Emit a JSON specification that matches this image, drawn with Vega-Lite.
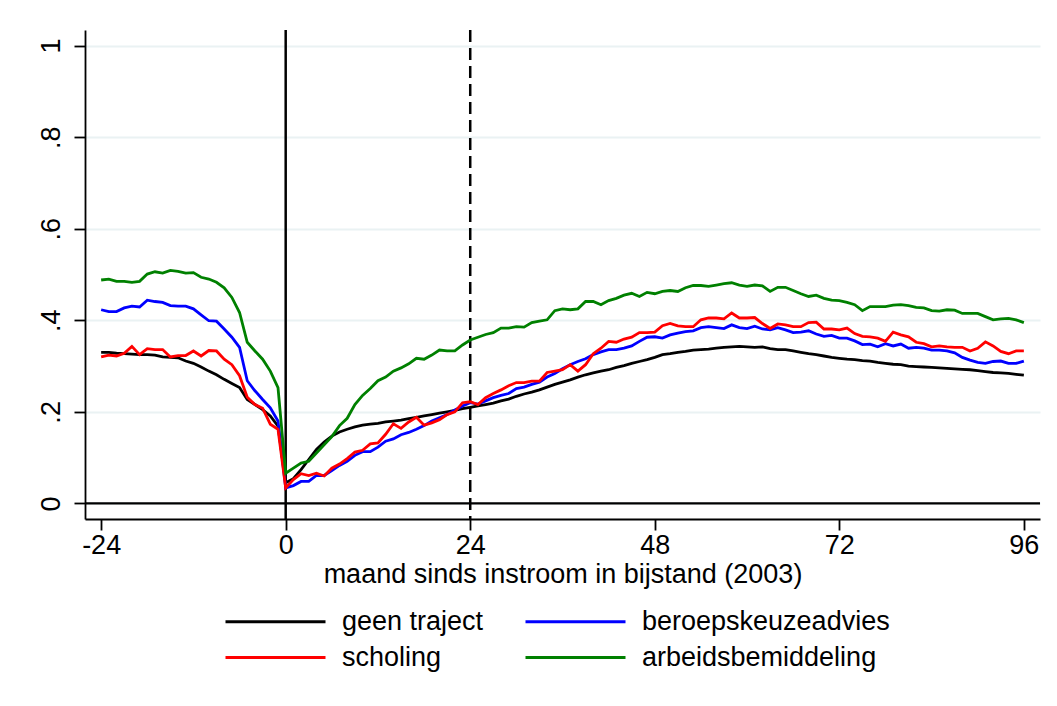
{
"$schema": "https://vega.github.io/schema/vega-lite/v6.json",
"width": 955, "height": 489,
"autosize": {"type": "none"},
"padding": {"left": 85, "top": 30, "right": 17, "bottom": 187},
"background": "white",
"config": {"view": {"stroke": null}, "font": "Liberation Sans",
  "axis": {"domainColor": "black", "domainWidth": 1.8, "tickColor": "black", "tickWidth": 1.8, "tickSize": 11, "labelFontSize": 27, "labelColor": "black", "titleFontSize": 27, "titleFontWeight": "normal", "titleColor": "black", "labelFont": "Liberation Sans", "titleFont": "Liberation Sans"},
  "axisX": {"grid": false, "labelPadding": 2, "titlePadding": 3},
  "axisY": {"grid": true, "gridColor": "#EAF2F3", "gridWidth": 2, "labelAngle": -90, "labelAlign": "center", "labelBaseline": "bottom", "labelPadding": 9}
},
"datasets": {
"series": [
{"m":-24,"s":"geen traject","v":0.330},{"m":-23,"s":"geen traject","v":0.330},{"m":-22,"s":"geen traject","v":0.328},{"m":-21,"s":"geen traject","v":0.327},{"m":-20,"s":"geen traject","v":0.326},{"m":-19,"s":"geen traject","v":0.325},{"m":-18,"s":"geen traject","v":0.325},{"m":-17,"s":"geen traject","v":0.324},{"m":-16,"s":"geen traject","v":0.320},{"m":-15,"s":"geen traject","v":0.319},{"m":-14,"s":"geen traject","v":0.318},{"m":-13,"s":"geen traject","v":0.311},{"m":-12,"s":"geen traject","v":0.306},{"m":-11,"s":"geen traject","v":0.298},{"m":-10,"s":"geen traject","v":0.289},{"m":-9,"s":"geen traject","v":0.281},{"m":-8,"s":"geen traject","v":0.271},{"m":-7,"s":"geen traject","v":0.262},{"m":-6,"s":"geen traject","v":0.253},{"m":-5,"s":"geen traject","v":0.227},{"m":-4,"s":"geen traject","v":0.216},{"m":-3,"s":"geen traject","v":0.205},{"m":-2,"s":"geen traject","v":0.191},{"m":-1,"s":"geen traject","v":0.169},
{"m":0,"s":"geen traject","v":0.045},{"m":1,"s":"geen traject","v":0.054},{"m":2,"s":"geen traject","v":0.074},{"m":3,"s":"geen traject","v":0.096},{"m":4,"s":"geen traject","v":0.118},{"m":5,"s":"geen traject","v":0.134},{"m":6,"s":"geen traject","v":0.147},{"m":7,"s":"geen traject","v":0.156},{"m":8,"s":"geen traject","v":0.162},{"m":9,"s":"geen traject","v":0.167},{"m":10,"s":"geen traject","v":0.171},{"m":11,"s":"geen traject","v":0.173},{"m":12,"s":"geen traject","v":0.175},{"m":13,"s":"geen traject","v":0.178},{"m":14,"s":"geen traject","v":0.180},{"m":15,"s":"geen traject","v":0.182},{"m":16,"s":"geen traject","v":0.185},{"m":17,"s":"geen traject","v":0.188},{"m":18,"s":"geen traject","v":0.191},{"m":19,"s":"geen traject","v":0.194},{"m":20,"s":"geen traject","v":0.197},{"m":21,"s":"geen traject","v":0.200},{"m":22,"s":"geen traject","v":0.203},{"m":23,"s":"geen traject","v":0.207},{"m":24,"s":"geen traject","v":0.210},
{"m":25,"s":"geen traject","v":0.213},{"m":26,"s":"geen traject","v":0.216},{"m":27,"s":"geen traject","v":0.219},{"m":28,"s":"geen traject","v":0.224},{"m":29,"s":"geen traject","v":0.228},{"m":30,"s":"geen traject","v":0.234},{"m":31,"s":"geen traject","v":0.239},{"m":32,"s":"geen traject","v":0.243},{"m":33,"s":"geen traject","v":0.248},{"m":34,"s":"geen traject","v":0.254},{"m":35,"s":"geen traject","v":0.260},{"m":36,"s":"geen traject","v":0.265},{"m":37,"s":"geen traject","v":0.270},{"m":38,"s":"geen traject","v":0.276},{"m":39,"s":"geen traject","v":0.281},{"m":40,"s":"geen traject","v":0.285},{"m":41,"s":"geen traject","v":0.289},{"m":42,"s":"geen traject","v":0.292},{"m":43,"s":"geen traject","v":0.297},{"m":44,"s":"geen traject","v":0.301},{"m":45,"s":"geen traject","v":0.306},{"m":46,"s":"geen traject","v":0.310},{"m":47,"s":"geen traject","v":0.314},{"m":48,"s":"geen traject","v":0.319},
{"m":49,"s":"geen traject","v":0.325},{"m":50,"s":"geen traject","v":0.327},{"m":51,"s":"geen traject","v":0.330},{"m":52,"s":"geen traject","v":0.332},{"m":53,"s":"geen traject","v":0.335},{"m":54,"s":"geen traject","v":0.336},{"m":55,"s":"geen traject","v":0.337},{"m":56,"s":"geen traject","v":0.339},{"m":57,"s":"geen traject","v":0.341},{"m":58,"s":"geen traject","v":0.342},{"m":59,"s":"geen traject","v":0.343},{"m":60,"s":"geen traject","v":0.342},{"m":61,"s":"geen traject","v":0.341},{"m":62,"s":"geen traject","v":0.342},{"m":63,"s":"geen traject","v":0.338},{"m":64,"s":"geen traject","v":0.336},{"m":65,"s":"geen traject","v":0.336},{"m":66,"s":"geen traject","v":0.333},{"m":67,"s":"geen traject","v":0.330},{"m":68,"s":"geen traject","v":0.327},{"m":69,"s":"geen traject","v":0.325},{"m":70,"s":"geen traject","v":0.322},{"m":71,"s":"geen traject","v":0.319},{"m":72,"s":"geen traject","v":0.317},
{"m":73,"s":"geen traject","v":0.315},{"m":74,"s":"geen traject","v":0.314},{"m":75,"s":"geen traject","v":0.312},{"m":76,"s":"geen traject","v":0.311},{"m":77,"s":"geen traject","v":0.308},{"m":78,"s":"geen traject","v":0.306},{"m":79,"s":"geen traject","v":0.304},{"m":80,"s":"geen traject","v":0.303},{"m":81,"s":"geen traject","v":0.300},{"m":82,"s":"geen traject","v":0.299},{"m":83,"s":"geen traject","v":0.298},{"m":84,"s":"geen traject","v":0.297},{"m":85,"s":"geen traject","v":0.296},{"m":86,"s":"geen traject","v":0.295},{"m":87,"s":"geen traject","v":0.294},{"m":88,"s":"geen traject","v":0.293},{"m":89,"s":"geen traject","v":0.292},{"m":90,"s":"geen traject","v":0.290},{"m":91,"s":"geen traject","v":0.288},{"m":92,"s":"geen traject","v":0.286},{"m":93,"s":"geen traject","v":0.285},{"m":94,"s":"geen traject","v":0.284},{"m":95,"s":"geen traject","v":0.282},{"m":96,"s":"geen traject","v":0.280},

{"m":-24,"s":"beroepskeuzeadvies","v":0.423},{"m":-23,"s":"beroepskeuzeadvies","v":0.419},{"m":-22,"s":"beroepskeuzeadvies","v":0.419},{"m":-21,"s":"beroepskeuzeadvies","v":0.427},{"m":-20,"s":"beroepskeuzeadvies","v":0.431},{"m":-19,"s":"beroepskeuzeadvies","v":0.429},{"m":-18,"s":"beroepskeuzeadvies","v":0.444},{"m":-17,"s":"beroepskeuzeadvies","v":0.441},{"m":-16,"s":"beroepskeuzeadvies","v":0.439},{"m":-15,"s":"beroepskeuzeadvies","v":0.432},{"m":-14,"s":"beroepskeuzeadvies","v":0.431},{"m":-13,"s":"beroepskeuzeadvies","v":0.431},{"m":-12,"s":"beroepskeuzeadvies","v":0.425},{"m":-11,"s":"beroepskeuzeadvies","v":0.412},{"m":-10,"s":"beroepskeuzeadvies","v":0.399},{"m":-9,"s":"beroepskeuzeadvies","v":0.398},{"m":-8,"s":"beroepskeuzeadvies","v":0.381},{"m":-7,"s":"beroepskeuzeadvies","v":0.363},{"m":-6,"s":"beroepskeuzeadvies","v":0.341},{"m":-5,"s":"beroepskeuzeadvies","v":0.268},{"m":-4,"s":"beroepskeuzeadvies","v":0.246},{"m":-3,"s":"beroepskeuzeadvies","v":0.227},{"m":-2,"s":"beroepskeuzeadvies","v":0.209},{"m":-1,"s":"beroepskeuzeadvies","v":0.180},
{"m":0,"s":"beroepskeuzeadvies","v":0.034},{"m":1,"s":"beroepskeuzeadvies","v":0.039},{"m":2,"s":"beroepskeuzeadvies","v":0.048},{"m":3,"s":"beroepskeuzeadvies","v":0.048},{"m":4,"s":"beroepskeuzeadvies","v":0.061},{"m":5,"s":"beroepskeuzeadvies","v":0.061},{"m":6,"s":"beroepskeuzeadvies","v":0.072},{"m":7,"s":"beroepskeuzeadvies","v":0.083},{"m":8,"s":"beroepskeuzeadvies","v":0.092},{"m":9,"s":"beroepskeuzeadvies","v":0.105},{"m":10,"s":"beroepskeuzeadvies","v":0.113},{"m":11,"s":"beroepskeuzeadvies","v":0.113},{"m":12,"s":"beroepskeuzeadvies","v":0.123},{"m":13,"s":"beroepskeuzeadvies","v":0.136},{"m":14,"s":"beroepskeuzeadvies","v":0.141},{"m":15,"s":"beroepskeuzeadvies","v":0.150},{"m":16,"s":"beroepskeuzeadvies","v":0.155},{"m":17,"s":"beroepskeuzeadvies","v":0.162},{"m":18,"s":"beroepskeuzeadvies","v":0.170},{"m":19,"s":"beroepskeuzeadvies","v":0.180},{"m":20,"s":"beroepskeuzeadvies","v":0.187},{"m":21,"s":"beroepskeuzeadvies","v":0.194},{"m":22,"s":"beroepskeuzeadvies","v":0.204},{"m":23,"s":"beroepskeuzeadvies","v":0.213},{"m":24,"s":"beroepskeuzeadvies","v":0.220},
{"m":25,"s":"beroepskeuzeadvies","v":0.217},{"m":26,"s":"beroepskeuzeadvies","v":0.224},{"m":27,"s":"beroepskeuzeadvies","v":0.231},{"m":28,"s":"beroepskeuzeadvies","v":0.236},{"m":29,"s":"beroepskeuzeadvies","v":0.240},{"m":30,"s":"beroepskeuzeadvies","v":0.251},{"m":31,"s":"beroepskeuzeadvies","v":0.254},{"m":32,"s":"beroepskeuzeadvies","v":0.260},{"m":33,"s":"beroepskeuzeadvies","v":0.265},{"m":34,"s":"beroepskeuzeadvies","v":0.276},{"m":35,"s":"beroepskeuzeadvies","v":0.284},{"m":36,"s":"beroepskeuzeadvies","v":0.294},{"m":37,"s":"beroepskeuzeadvies","v":0.303},{"m":38,"s":"beroepskeuzeadvies","v":0.310},{"m":39,"s":"beroepskeuzeadvies","v":0.316},{"m":40,"s":"beroepskeuzeadvies","v":0.325},{"m":41,"s":"beroepskeuzeadvies","v":0.331},{"m":42,"s":"beroepskeuzeadvies","v":0.336},{"m":43,"s":"beroepskeuzeadvies","v":0.336},{"m":44,"s":"beroepskeuzeadvies","v":0.339},{"m":45,"s":"beroepskeuzeadvies","v":0.344},{"m":46,"s":"beroepskeuzeadvies","v":0.354},{"m":47,"s":"beroepskeuzeadvies","v":0.363},{"m":48,"s":"beroepskeuzeadvies","v":0.364},
{"m":49,"s":"beroepskeuzeadvies","v":0.361},{"m":50,"s":"beroepskeuzeadvies","v":0.368},{"m":51,"s":"beroepskeuzeadvies","v":0.372},{"m":52,"s":"beroepskeuzeadvies","v":0.375},{"m":53,"s":"beroepskeuzeadvies","v":0.377},{"m":54,"s":"beroepskeuzeadvies","v":0.384},{"m":55,"s":"beroepskeuzeadvies","v":0.386},{"m":56,"s":"beroepskeuzeadvies","v":0.384},{"m":57,"s":"beroepskeuzeadvies","v":0.382},{"m":58,"s":"beroepskeuzeadvies","v":0.390},{"m":59,"s":"beroepskeuzeadvies","v":0.384},{"m":60,"s":"beroepskeuzeadvies","v":0.382},{"m":61,"s":"beroepskeuzeadvies","v":0.387},{"m":62,"s":"beroepskeuzeadvies","v":0.381},{"m":63,"s":"beroepskeuzeadvies","v":0.379},{"m":64,"s":"beroepskeuzeadvies","v":0.384},{"m":65,"s":"beroepskeuzeadvies","v":0.379},{"m":66,"s":"beroepskeuzeadvies","v":0.373},{"m":67,"s":"beroepskeuzeadvies","v":0.374},{"m":68,"s":"beroepskeuzeadvies","v":0.377},{"m":69,"s":"beroepskeuzeadvies","v":0.370},{"m":70,"s":"beroepskeuzeadvies","v":0.365},{"m":71,"s":"beroepskeuzeadvies","v":0.367},{"m":72,"s":"beroepskeuzeadvies","v":0.361},
{"m":73,"s":"beroepskeuzeadvies","v":0.361},{"m":74,"s":"beroepskeuzeadvies","v":0.355},{"m":75,"s":"beroepskeuzeadvies","v":0.347},{"m":76,"s":"beroepskeuzeadvies","v":0.348},{"m":77,"s":"beroepskeuzeadvies","v":0.342},{"m":78,"s":"beroepskeuzeadvies","v":0.349},{"m":79,"s":"beroepskeuzeadvies","v":0.344},{"m":80,"s":"beroepskeuzeadvies","v":0.348},{"m":81,"s":"beroepskeuzeadvies","v":0.339},{"m":82,"s":"beroepskeuzeadvies","v":0.341},{"m":83,"s":"beroepskeuzeadvies","v":0.339},{"m":84,"s":"beroepskeuzeadvies","v":0.335},{"m":85,"s":"beroepskeuzeadvies","v":0.335},{"m":86,"s":"beroepskeuzeadvies","v":0.333},{"m":87,"s":"beroepskeuzeadvies","v":0.329},{"m":88,"s":"beroepskeuzeadvies","v":0.319},{"m":89,"s":"beroepskeuzeadvies","v":0.313},{"m":90,"s":"beroepskeuzeadvies","v":0.308},{"m":91,"s":"beroepskeuzeadvies","v":0.306},{"m":92,"s":"beroepskeuzeadvies","v":0.310},{"m":93,"s":"beroepskeuzeadvies","v":0.311},{"m":94,"s":"beroepskeuzeadvies","v":0.306},{"m":95,"s":"beroepskeuzeadvies","v":0.306},{"m":96,"s":"beroepskeuzeadvies","v":0.311},

{"m":-24,"s":"scholing","v":0.320},{"m":-23,"s":"scholing","v":0.324},{"m":-22,"s":"scholing","v":0.322},{"m":-21,"s":"scholing","v":0.328},{"m":-20,"s":"scholing","v":0.343},{"m":-19,"s":"scholing","v":0.325},{"m":-18,"s":"scholing","v":0.338},{"m":-17,"s":"scholing","v":0.336},{"m":-16,"s":"scholing","v":0.336},{"m":-15,"s":"scholing","v":0.320},{"m":-14,"s":"scholing","v":0.323},{"m":-13,"s":"scholing","v":0.323},{"m":-12,"s":"scholing","v":0.333},{"m":-11,"s":"scholing","v":0.322},{"m":-10,"s":"scholing","v":0.334},{"m":-9,"s":"scholing","v":0.333},{"m":-8,"s":"scholing","v":0.315},{"m":-7,"s":"scholing","v":0.303},{"m":-6,"s":"scholing","v":0.279},{"m":-5,"s":"scholing","v":0.232},{"m":-4,"s":"scholing","v":0.216},{"m":-3,"s":"scholing","v":0.208},{"m":-2,"s":"scholing","v":0.173},{"m":-1,"s":"scholing","v":0.162},
{"m":0,"s":"scholing","v":0.034},{"m":1,"s":"scholing","v":0.052},{"m":2,"s":"scholing","v":0.065},{"m":3,"s":"scholing","v":0.061},{"m":4,"s":"scholing","v":0.066},{"m":5,"s":"scholing","v":0.060},{"m":6,"s":"scholing","v":0.077},{"m":7,"s":"scholing","v":0.086},{"m":8,"s":"scholing","v":0.098},{"m":9,"s":"scholing","v":0.112},{"m":10,"s":"scholing","v":0.116},{"m":11,"s":"scholing","v":0.130},{"m":12,"s":"scholing","v":0.132},{"m":13,"s":"scholing","v":0.151},{"m":14,"s":"scholing","v":0.174},{"m":15,"s":"scholing","v":0.164},{"m":16,"s":"scholing","v":0.178},{"m":17,"s":"scholing","v":0.188},{"m":18,"s":"scholing","v":0.171},{"m":19,"s":"scholing","v":0.176},{"m":20,"s":"scholing","v":0.183},{"m":21,"s":"scholing","v":0.194},{"m":22,"s":"scholing","v":0.200},{"m":23,"s":"scholing","v":0.220},{"m":24,"s":"scholing","v":0.222},
{"m":25,"s":"scholing","v":0.216},{"m":26,"s":"scholing","v":0.231},{"m":27,"s":"scholing","v":0.240},{"m":28,"s":"scholing","v":0.248},{"m":29,"s":"scholing","v":0.257},{"m":30,"s":"scholing","v":0.264},{"m":31,"s":"scholing","v":0.264},{"m":32,"s":"scholing","v":0.267},{"m":33,"s":"scholing","v":0.267},{"m":34,"s":"scholing","v":0.286},{"m":35,"s":"scholing","v":0.289},{"m":36,"s":"scholing","v":0.292},{"m":37,"s":"scholing","v":0.303},{"m":38,"s":"scholing","v":0.289},{"m":39,"s":"scholing","v":0.303},{"m":40,"s":"scholing","v":0.327},{"m":41,"s":"scholing","v":0.339},{"m":42,"s":"scholing","v":0.354},{"m":43,"s":"scholing","v":0.352},{"m":44,"s":"scholing","v":0.359},{"m":45,"s":"scholing","v":0.363},{"m":46,"s":"scholing","v":0.373},{"m":47,"s":"scholing","v":0.373},{"m":48,"s":"scholing","v":0.374},
{"m":49,"s":"scholing","v":0.388},{"m":50,"s":"scholing","v":0.393},{"m":51,"s":"scholing","v":0.388},{"m":52,"s":"scholing","v":0.386},{"m":53,"s":"scholing","v":0.386},{"m":54,"s":"scholing","v":0.401},{"m":55,"s":"scholing","v":0.405},{"m":56,"s":"scholing","v":0.405},{"m":57,"s":"scholing","v":0.403},{"m":58,"s":"scholing","v":0.416},{"m":59,"s":"scholing","v":0.405},{"m":60,"s":"scholing","v":0.405},{"m":61,"s":"scholing","v":0.406},{"m":62,"s":"scholing","v":0.393},{"m":63,"s":"scholing","v":0.382},{"m":64,"s":"scholing","v":0.392},{"m":65,"s":"scholing","v":0.390},{"m":66,"s":"scholing","v":0.386},{"m":67,"s":"scholing","v":0.386},{"m":68,"s":"scholing","v":0.395},{"m":69,"s":"scholing","v":0.396},{"m":70,"s":"scholing","v":0.381},{"m":71,"s":"scholing","v":0.381},{"m":72,"s":"scholing","v":0.379},
{"m":73,"s":"scholing","v":0.383},{"m":74,"s":"scholing","v":0.371},{"m":75,"s":"scholing","v":0.365},{"m":76,"s":"scholing","v":0.364},{"m":77,"s":"scholing","v":0.361},{"m":78,"s":"scholing","v":0.354},{"m":79,"s":"scholing","v":0.374},{"m":80,"s":"scholing","v":0.368},{"m":81,"s":"scholing","v":0.364},{"m":82,"s":"scholing","v":0.352},{"m":83,"s":"scholing","v":0.349},{"m":84,"s":"scholing","v":0.342},{"m":85,"s":"scholing","v":0.344},{"m":86,"s":"scholing","v":0.342},{"m":87,"s":"scholing","v":0.341},{"m":88,"s":"scholing","v":0.341},{"m":89,"s":"scholing","v":0.333},{"m":90,"s":"scholing","v":0.339},{"m":91,"s":"scholing","v":0.353},{"m":92,"s":"scholing","v":0.344},{"m":93,"s":"scholing","v":0.332},{"m":94,"s":"scholing","v":0.327},{"m":95,"s":"scholing","v":0.333},{"m":96,"s":"scholing","v":0.333},

{"m":-24,"s":"arbeidsbemiddeling","v":0.488},{"m":-23,"s":"arbeidsbemiddeling","v":0.490},{"m":-22,"s":"arbeidsbemiddeling","v":0.485},{"m":-21,"s":"arbeidsbemiddeling","v":0.485},{"m":-20,"s":"arbeidsbemiddeling","v":0.483},{"m":-19,"s":"arbeidsbemiddeling","v":0.485},{"m":-18,"s":"arbeidsbemiddeling","v":0.501},{"m":-17,"s":"arbeidsbemiddeling","v":0.506},{"m":-16,"s":"arbeidsbemiddeling","v":0.503},{"m":-15,"s":"arbeidsbemiddeling","v":0.509},{"m":-14,"s":"arbeidsbemiddeling","v":0.507},{"m":-13,"s":"arbeidsbemiddeling","v":0.503},{"m":-12,"s":"arbeidsbemiddeling","v":0.504},{"m":-11,"s":"arbeidsbemiddeling","v":0.494},{"m":-10,"s":"arbeidsbemiddeling","v":0.490},{"m":-9,"s":"arbeidsbemiddeling","v":0.483},{"m":-8,"s":"arbeidsbemiddeling","v":0.471},{"m":-7,"s":"arbeidsbemiddeling","v":0.450},{"m":-6,"s":"arbeidsbemiddeling","v":0.417},{"m":-5,"s":"arbeidsbemiddeling","v":0.352},{"m":-4,"s":"arbeidsbemiddeling","v":0.333},{"m":-3,"s":"arbeidsbemiddeling","v":0.315},{"m":-2,"s":"arbeidsbemiddeling","v":0.289},{"m":-1,"s":"arbeidsbemiddeling","v":0.253},
{"m":0,"s":"arbeidsbemiddeling","v":0.066},{"m":1,"s":"arbeidsbemiddeling","v":0.077},{"m":2,"s":"arbeidsbemiddeling","v":0.088},{"m":3,"s":"arbeidsbemiddeling","v":0.092},{"m":4,"s":"arbeidsbemiddeling","v":0.110},{"m":5,"s":"arbeidsbemiddeling","v":0.128},{"m":6,"s":"arbeidsbemiddeling","v":0.146},{"m":7,"s":"arbeidsbemiddeling","v":0.170},{"m":8,"s":"arbeidsbemiddeling","v":0.186},{"m":9,"s":"arbeidsbemiddeling","v":0.216},{"m":10,"s":"arbeidsbemiddeling","v":0.236},{"m":11,"s":"arbeidsbemiddeling","v":0.251},{"m":12,"s":"arbeidsbemiddeling","v":0.268},{"m":13,"s":"arbeidsbemiddeling","v":0.276},{"m":14,"s":"arbeidsbemiddeling","v":0.289},{"m":15,"s":"arbeidsbemiddeling","v":0.296},{"m":16,"s":"arbeidsbemiddeling","v":0.305},{"m":17,"s":"arbeidsbemiddeling","v":0.317},{"m":18,"s":"arbeidsbemiddeling","v":0.315},{"m":19,"s":"arbeidsbemiddeling","v":0.324},{"m":20,"s":"arbeidsbemiddeling","v":0.335},{"m":21,"s":"arbeidsbemiddeling","v":0.333},{"m":22,"s":"arbeidsbemiddeling","v":0.333},{"m":23,"s":"arbeidsbemiddeling","v":0.346},{"m":24,"s":"arbeidsbemiddeling","v":0.357},
{"m":25,"s":"arbeidsbemiddeling","v":0.363},{"m":26,"s":"arbeidsbemiddeling","v":0.369},{"m":27,"s":"arbeidsbemiddeling","v":0.373},{"m":28,"s":"arbeidsbemiddeling","v":0.383},{"m":29,"s":"arbeidsbemiddeling","v":0.383},{"m":30,"s":"arbeidsbemiddeling","v":0.386},{"m":31,"s":"arbeidsbemiddeling","v":0.385},{"m":32,"s":"arbeidsbemiddeling","v":0.395},{"m":33,"s":"arbeidsbemiddeling","v":0.398},{"m":34,"s":"arbeidsbemiddeling","v":0.401},{"m":35,"s":"arbeidsbemiddeling","v":0.421},{"m":36,"s":"arbeidsbemiddeling","v":0.425},{"m":37,"s":"arbeidsbemiddeling","v":0.423},{"m":38,"s":"arbeidsbemiddeling","v":0.425},{"m":39,"s":"arbeidsbemiddeling","v":0.441},{"m":40,"s":"arbeidsbemiddeling","v":0.441},{"m":41,"s":"arbeidsbemiddeling","v":0.434},{"m":42,"s":"arbeidsbemiddeling","v":0.443},{"m":43,"s":"arbeidsbemiddeling","v":0.448},{"m":44,"s":"arbeidsbemiddeling","v":0.455},{"m":45,"s":"arbeidsbemiddeling","v":0.459},{"m":46,"s":"arbeidsbemiddeling","v":0.452},{"m":47,"s":"arbeidsbemiddeling","v":0.461},{"m":48,"s":"arbeidsbemiddeling","v":0.458},
{"m":49,"s":"arbeidsbemiddeling","v":0.463},{"m":50,"s":"arbeidsbemiddeling","v":0.465},{"m":51,"s":"arbeidsbemiddeling","v":0.463},{"m":52,"s":"arbeidsbemiddeling","v":0.471},{"m":53,"s":"arbeidsbemiddeling","v":0.476},{"m":54,"s":"arbeidsbemiddeling","v":0.476},{"m":55,"s":"arbeidsbemiddeling","v":0.474},{"m":56,"s":"arbeidsbemiddeling","v":0.477},{"m":57,"s":"arbeidsbemiddeling","v":0.480},{"m":58,"s":"arbeidsbemiddeling","v":0.482},{"m":59,"s":"arbeidsbemiddeling","v":0.477},{"m":60,"s":"arbeidsbemiddeling","v":0.474},{"m":61,"s":"arbeidsbemiddeling","v":0.477},{"m":62,"s":"arbeidsbemiddeling","v":0.475},{"m":63,"s":"arbeidsbemiddeling","v":0.463},{"m":64,"s":"arbeidsbemiddeling","v":0.472},{"m":65,"s":"arbeidsbemiddeling","v":0.472},{"m":66,"s":"arbeidsbemiddeling","v":0.465},{"m":67,"s":"arbeidsbemiddeling","v":0.458},{"m":68,"s":"arbeidsbemiddeling","v":0.452},{"m":69,"s":"arbeidsbemiddeling","v":0.455},{"m":70,"s":"arbeidsbemiddeling","v":0.448},{"m":71,"s":"arbeidsbemiddeling","v":0.444},{"m":72,"s":"arbeidsbemiddeling","v":0.443},
{"m":73,"s":"arbeidsbemiddeling","v":0.439},{"m":74,"s":"arbeidsbemiddeling","v":0.434},{"m":75,"s":"arbeidsbemiddeling","v":0.421},{"m":76,"s":"arbeidsbemiddeling","v":0.430},{"m":77,"s":"arbeidsbemiddeling","v":0.430},{"m":78,"s":"arbeidsbemiddeling","v":0.430},{"m":79,"s":"arbeidsbemiddeling","v":0.433},{"m":80,"s":"arbeidsbemiddeling","v":0.434},{"m":81,"s":"arbeidsbemiddeling","v":0.432},{"m":82,"s":"arbeidsbemiddeling","v":0.428},{"m":83,"s":"arbeidsbemiddeling","v":0.427},{"m":84,"s":"arbeidsbemiddeling","v":0.421},{"m":85,"s":"arbeidsbemiddeling","v":0.420},{"m":86,"s":"arbeidsbemiddeling","v":0.423},{"m":87,"s":"arbeidsbemiddeling","v":0.422},{"m":88,"s":"arbeidsbemiddeling","v":0.415},{"m":89,"s":"arbeidsbemiddeling","v":0.415},{"m":90,"s":"arbeidsbemiddeling","v":0.415},{"m":91,"s":"arbeidsbemiddeling","v":0.408},{"m":92,"s":"arbeidsbemiddeling","v":0.401},{"m":93,"s":"arbeidsbemiddeling","v":0.403},{"m":94,"s":"arbeidsbemiddeling","v":0.404},{"m":95,"s":"arbeidsbemiddeling","v":0.401},{"m":96,"s":"arbeidsbemiddeling","v":0.395}
]
},
"layer": [
 {"data": {"values": [{"v": 0}]},
  "mark": {"type": "rule", "color": "black", "strokeWidth": 2.3},
  "encoding": {"y": {"field": "v", "type": "quantitative", "title": null}}},
 {"data": {"values": [{"m": 0}]},
  "mark": {"type": "rule", "color": "black", "strokeWidth": 2.5},
  "encoding": {"x": {"field": "m", "type": "quantitative", "title": "maand sinds instroom in bijstand (2003)"}}},
 {"data": {"values": [{"m": 24}]},
  "mark": {"type": "rule", "color": "black", "strokeWidth": 2.5, "strokeDash": [12, 6]},
  "encoding": {"x": {"field": "m", "type": "quantitative", "title": "maand sinds instroom in bijstand (2003)"}}},
 {"data": {"name": "series"},
  "mark": {"type": "line", "strokeWidth": 2.8},
  "encoding": {
   "x": {"field": "m", "type": "quantitative", "title": "maand sinds instroom in bijstand (2003)",
         "scale": {"domain": [-26.1, 98.1], "nice": false, "zero": false},
         "axis": {"values": [-24, 0, 24, 48, 72, 96],
                  "labelExpr": "datum.value < 0 ? '-' + abs(datum.value) : '' + datum.value"}},
   "y": {"field": "v", "type": "quantitative", "title": null,
         "scale": {"domain": [-0.034, 1.034], "nice": false, "zero": false},
         "axis": {"values": [0, 0.2, 0.4, 0.6, 0.8, 1],
                  "labelExpr": "datum.value < 0.01 ? '0' : (datum.value > 0.99 ? '1' : '.' + format(datum.value * 10, '.0f'))"}},
   "color": {"field": "s", "type": "nominal",
     "scale": {"domain": ["geen traject", "scholing", "beroepskeuzeadvies", "arbeidsbemiddeling"],
               "range": ["#000000", "#FF0000", "#0000FF", "#008000"]},
     "legend": {"orient": "none", "legendX": 177, "legendY": 578, "columns": 2, "title": null,
                "symbolType": "M-5,0H5", "symbolSize": 400, "symbolStrokeWidth": 3,
                "labelFontSize": 27, "labelFont": "Liberation Sans", "labelColor": "black",
                "labelOffset": 53, "columnPadding": 35, "rowPadding": 8, "padding": 0, "labelLimit": 500}}
  }}
]
}
